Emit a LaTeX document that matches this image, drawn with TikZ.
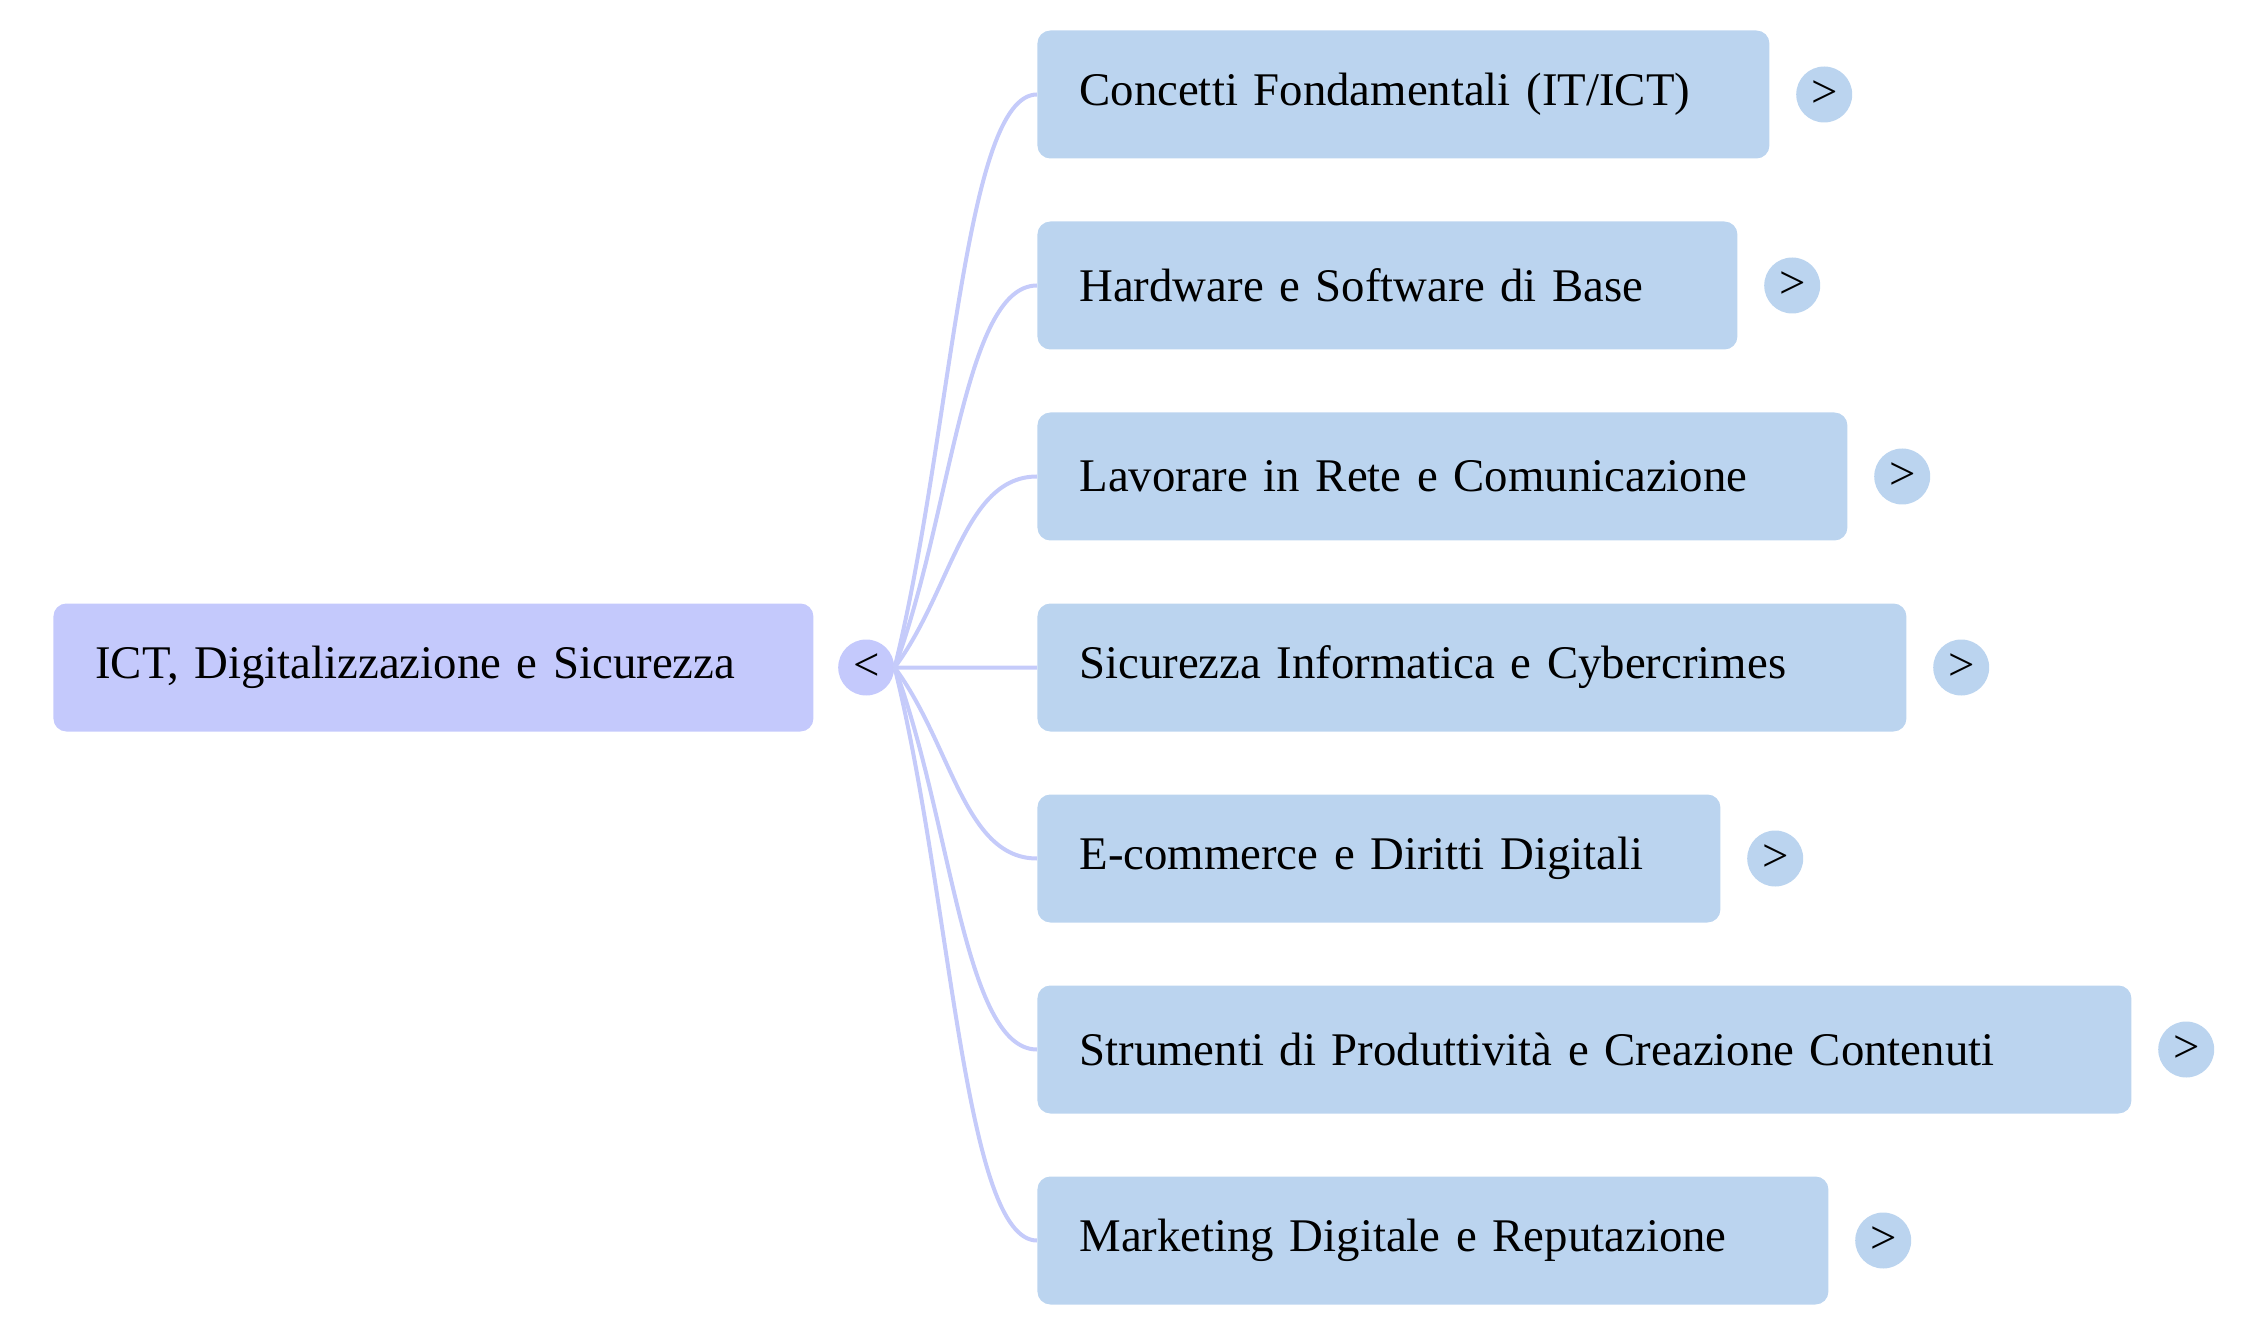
\documentclass[tikz,border=0pt]{standalone}
\usepackage{fontspec}
\setmainfont{Liberation Serif}
\usetikzlibrary{positioning,calc}
\definecolor{rootfill}{RGB}{196,201,252}
\definecolor{topicfill}{RGB}{187,212,239}
\definecolor{linkcol}{RGB}{197,203,250}
\tikzset{
  rootbox/.style={fill=rootfill, rounded corners=6.5pt, anchor=west, minimum height=64pt,
    inner xsep=21pt, align=left, font=\fontsize{23.4}{28}\selectfont},
  topicbox/.style={rootbox, fill=topicfill},
  fold/.style={circle, minimum size=28pt, inner sep=0pt, font=\fontsize{23.4}{28}\selectfont},
  link/.style={draw=linkcol, line width=2pt}
}
\begin{document}
\begin{tikzpicture}[x=0.5pt,y=-0.5pt]
\useasboundingbox (0,0) rectangle (2264,1336);
\node[rootbox, text width=338pt] (root) at (53,667.5) {ICT, Digitalizzazione e Sicurezza};
\node[fold, fill=rootfill, right=12pt of root] (rootdot) {<};
\foreach \i/\w/\txt in {1/732/{Concetti Fondamentali (IT/ICT)},
    2/700/{Hardware e Software di Base},
    3/810/{Lavorare in Rete e Comunicazione},
    4/869/{Sicurezza Informatica e Cybercrimes},
    5/683/{E-commerce e Diritti Digitali},
    6/1094/{Strumenti di Produttività e Creazione Contenuti},
    7/791/{Marketing Digitale e Reputazione}} {
  \pgfmathsetmacro\tw{\w*0.5-42}
  \pgfmathsetmacro\yc{94.5+191*(\i-1)}
  \node[topicbox, text width=\tw pt] (t\i) at (1037,\yc) {\txt};
  \node[fold, fill=topicfill, right=13pt of t\i] (d\i) {>};
  % curve out of the root dot
  \draw[link] (rootdot.east) .. controls ($(rootdot.east)!0.4!(t\i.west)$) and ($(t\i.west)+(-73,0)$) .. (t\i.west);
}
\end{tikzpicture}
\end{document}
